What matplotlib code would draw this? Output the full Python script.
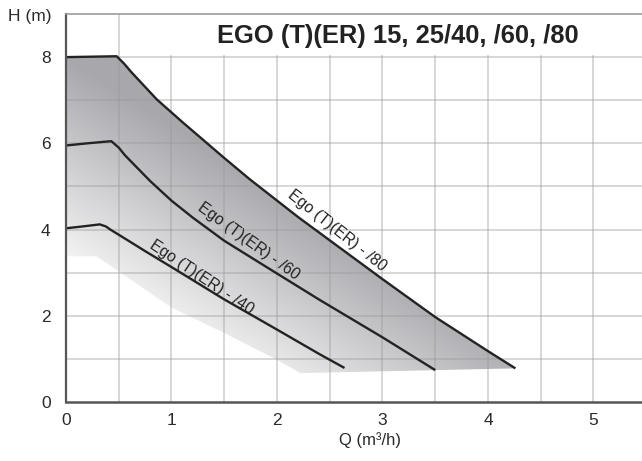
import numpy as np
import matplotlib
matplotlib.use("Agg")
import matplotlib.pyplot as plt
from matplotlib.patches import Polygon, Rectangle

plt.rcParams['font.family'] = ['Liberation Sans', 'DejaVu Sans']

# ---- data ----
q80 = [0.0, 0.25, 0.48, 0.55, 0.62, 0.86, 1.1, 1.5, 1.74, 2.2, 2.6, 3.0, 3.5, 4.0, 4.26]
h80 = [8.0, 8.01, 8.02, 7.85, 7.65, 7.02, 6.5, 5.66, 5.17, 4.29, 3.57, 2.85, 1.97, 1.18, 0.78]

q60 = [0.0, 0.2, 0.43, 0.5, 0.56, 0.8, 1.0, 1.2, 1.5, 2.0, 2.41, 3.0, 3.5]
h60 = [5.95, 6.0, 6.05, 5.9, 5.72, 5.12, 4.67, 4.28, 3.74, 2.98, 2.36, 1.5, 0.74]

q40 = [0.0, 0.15, 0.32, 0.38, 0.42, 0.5, 0.75, 1.0, 1.5, 2.0, 2.41, 2.64]
h40 = [4.03, 4.07, 4.12, 4.07, 4.0, 3.88, 3.5, 3.13, 2.38, 1.68, 1.1, 0.79]

# lower edge of the shaded area (from /80 end back to the axis)
q_low = [4.26, 2.22, 2.0, 1.5, 1.0, 0.29, 0.0]
h_low = [0.78, 0.67, 0.98, 1.6, 2.19, 3.38, 3.38]

curve_labels = ["Ego (T)(ER) - /80", "Ego (T)(ER) - /60", "Ego (T)(ER) - /40"]
label_pos = [(2.57, 3.97), (1.73, 3.74), (1.29, 2.9)]
label_rot = [-38.4, -35.7, -33.7]

x_ticks = [0, 1, 2, 3, 4, 5]
y_ticks = [0, 2, 4, 6, 8]
title = "EGO (T)(ER) 15, 25/40, /60, /80"

# ---- figure ----
fig = plt.figure(figsize=(6.42, 4.61), dpi=100)
L, B = 66 / 642, (461 - 402) / 461
ax = fig.add_axes([L, B, 1 - L, (402 - 14) / 461])
ax.set_xlim(0, 5.46)
ax.set_ylim(0, 9)

# gradient shading clipped to the area under the /80 curve
poly_x = list(q80) + q_low
poly_y = list(h80) + h_low
poly = Polygon(np.column_stack([poly_x, poly_y]), closed=True,
               facecolor='none', edgecolor='none')
ax.add_patch(poly)
nx, ny = 400, 400
gx = np.linspace(0, 4.4, nx)
gy = np.linspace(0.5, 8.2, ny)
GX, GY = np.meshgrid(gx, gy)
ux, uy = GX * 105.5, GY * 43.0
d = np.array([4.26 * 105.5, (0.78 - 8.0) * 43.0])
dl = np.hypot(*d)
n = np.array([d[1], -d[0]]) / dl  # normal pointing down-left
s = ux * n[0] + (uy - 8.0 * 43.0) * n[1]
p = (ux * d[0] + (uy - 8.0 * 43.0) * d[1]) / dl ** 2  # position along line
t = np.clip(s / 175.0 + 0.12 * np.clip(p, 0, 1), 0, 1)
dark = np.array([0.655, 0.655, 0.675])
light = np.array([0.965, 0.965, 0.965])
img = dark[None, None, :] * (1 - t[..., None]) + light[None, None, :] * t[..., None]
im = ax.imshow(img, extent=[gx[0], gx[-1], gy[0], gy[-1]], origin='lower',
               aspect='auto', zorder=1, interpolation='bilinear')
im.set_clip_path(poly)

# grid
for xv in np.arange(0.5, 5.5, 0.5):
    ax.axvline(xv, color='#9a9a9a', alpha=0.5, lw=1.1, zorder=2)
for yv in np.arange(1, 9, 1):
    ax.axhline(yv, color='#9a9a9a', alpha=0.5, lw=1.1, zorder=2)

# white box behind the title
ax.add_patch(Rectangle((0.72, 8.04), 5.0, 0.95, facecolor='white',
                       edgecolor='none', zorder=3))

# curves
for q, h in [(q80, h80), (q60, h60), (q40, h40)]:
    ax.plot(q, h, color='#232323', lw=1.7, zorder=4, solid_capstyle='butt',
            solid_joinstyle='round')

for txt, (xq, yh), rot in zip(curve_labels, label_pos, label_rot):
    ax.text(xq, yh, txt, rotation=rot, rotation_mode='anchor', ha='center',
            va='center', fontsize=11.3, color='#222222', zorder=5)

ax.text(3.15, 8.5, title, fontsize=18.4, fontweight='bold', color='#222222',
        ha='center', va='center', zorder=5)

# spines / ticks
ax.spines['right'].set_visible(False)
ax.spines['top'].set_color('#9c9c9c')
ax.spines['top'].set_linewidth(1.2)
ax.spines['left'].set_color('#555555')
ax.spines['left'].set_linewidth(1.6)
ax.spines['bottom'].set_color('#555555')
ax.spines['bottom'].set_linewidth(1.8)
for sp in ax.spines.values():
    sp.set_zorder(6)

ax.set_xticks(x_ticks)
ax.set_yticks(y_ticks)
ax.set_xticklabels([str(v) for v in x_ticks])
ax.set_yticklabels([str(v) for v in y_ticks])
ax.tick_params(axis='both', length=0, labelsize=12.5, colors='#2a2a2a')
ax.tick_params(axis='x', pad=8)
ax.tick_params(axis='y', pad=11)

fig.text(8 / 642, 1 - 17 / 461, "H (m)", fontsize=12.5, color='#2a2a2a',
         ha='left', va='center')
fig.text(370 / 642, 1 - 440 / 461, "Q (m³/h)", fontsize=12, color='#2a2a2a',
         ha='center', va='center')

fig.savefig("out.png", dpi=100)
